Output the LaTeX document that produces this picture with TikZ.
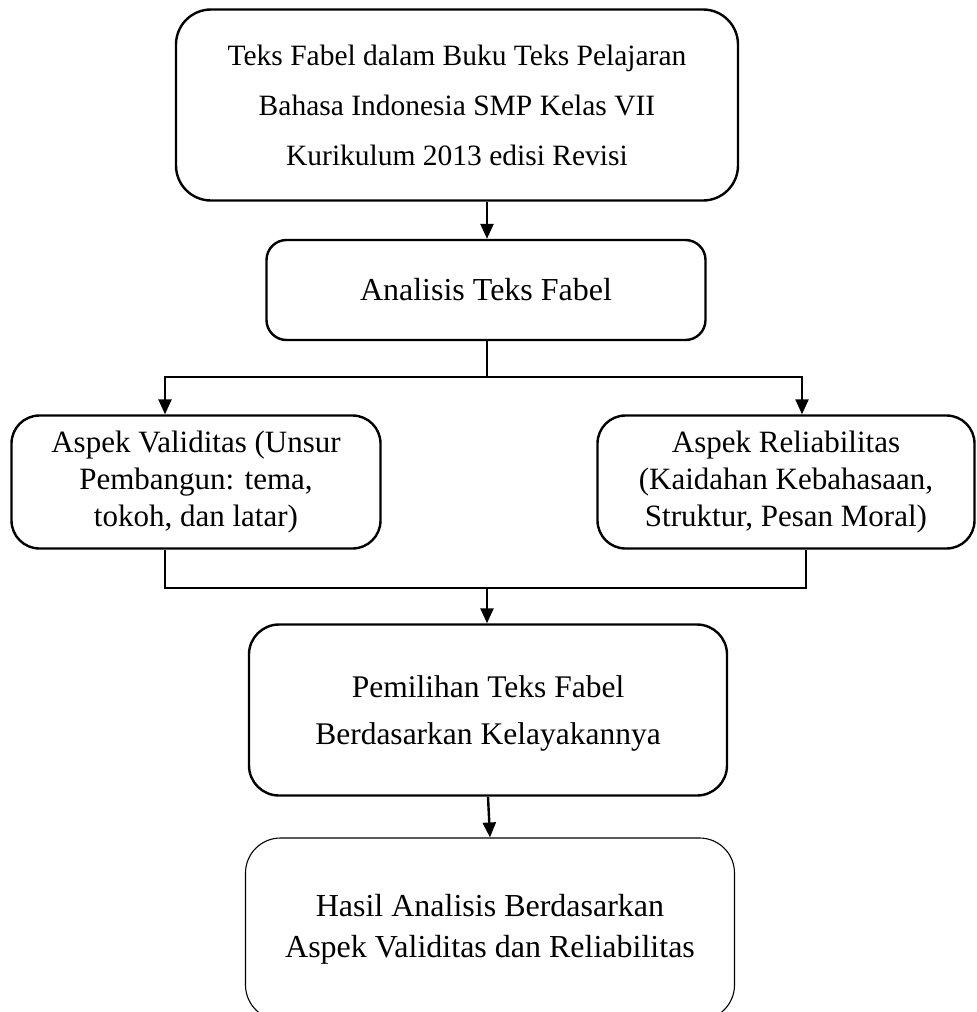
\documentclass[tikz,border=0pt]{standalone}
\usepackage{fontspec}
\setmainfont{Liberation Serif}
\usetikzlibrary{arrows.meta}
\begin{document}
\begin{tikzpicture}[x=1pt,y=-1pt,
  box/.style={draw, line width=2.4pt, align=center, inner sep=0pt},
  thinbox/.style={draw, line width=1.1pt, align=center, inner sep=0pt},
  conn/.style={line width=2.4pt},
  arr/.style={line width=2.4pt, -{Triangle[length=15pt,width=13pt]}}]
\useasboundingbox (0,0) rectangle (977,1012);
\node[box, rounded corners=35pt, minimum width=562pt, minimum height=191pt,
  font=\fontsize{29.5}{50}\selectfont] (b1) at (457,105)
  {Teks Fabel dalam Buku Teks Pelajaran\\Bahasa Indonesia SMP Kelas VII\\Kurikulum 2013 edisi Revisi};
\node[box, rounded corners=20pt, minimum width=439pt, minimum height=100pt,
  font=\fontsize{32}{38}\selectfont] (b2) at (486,290) {Analisis Teks Fabel};
\node[box, rounded corners=28pt, minimum width=369pt, minimum height=133pt,
  font=\fontsize{31}{37}\selectfont] (b3) at (196,482)
  {Aspek Validitas (Unsur\\Pembangun: tema,\\tokoh, dan latar)};
\node[box, rounded corners=28pt, minimum width=377pt, minimum height=133pt,
  font=\fontsize{31}{37}\selectfont] (b4) at (786,482)
  {Aspek Reliabilitas\\(Kaidahan Kebahasaan,\\Struktur, Pesan Moral)};
\node[box, rounded corners=30pt, minimum width=478pt, minimum height=171pt,
  font=\fontsize{31.5}{47}\selectfont] (b5) at (488,710)
  {\rule{0pt}{28pt}Pemilihan Teks Fabel\\Berdasarkan Kelayakannya};
\node[thinbox, rounded corners=35pt, minimum width=489pt, minimum height=182pt,
  font=\fontsize{32}{41}\selectfont] (b6) at (490,929)
  {Hasil Analisis Berdasarkan\\Aspek Validitas dan Reliabilitas};
% connectors
\coordinate (j1) at (487,377);
\coordinate (l1) at (165,377);
\coordinate (r1) at (802,377);
\coordinate (m) at (487,588);
\coordinate (ml) at (165,588);
\coordinate (mr) at (806,588);
\draw[arr] (b1.south -| j1) -- (b2.north -| j1);
\draw[conn] (b2.south -| j1) -- (j1);
\draw[arr] (j1) -- (l1) -- (l1 |- b3.north);
\draw[arr] (j1) -- (r1) -- (r1 |- b4.north);
\draw[conn] (ml |- b3.south) -- (ml) -- (mr) -- (mr |- b4.south);
\draw[arr] (m) -- (m |- b5.north);
\draw[arr] (b5.south) -- (b6.north);
\end{tikzpicture}
\end{document}
